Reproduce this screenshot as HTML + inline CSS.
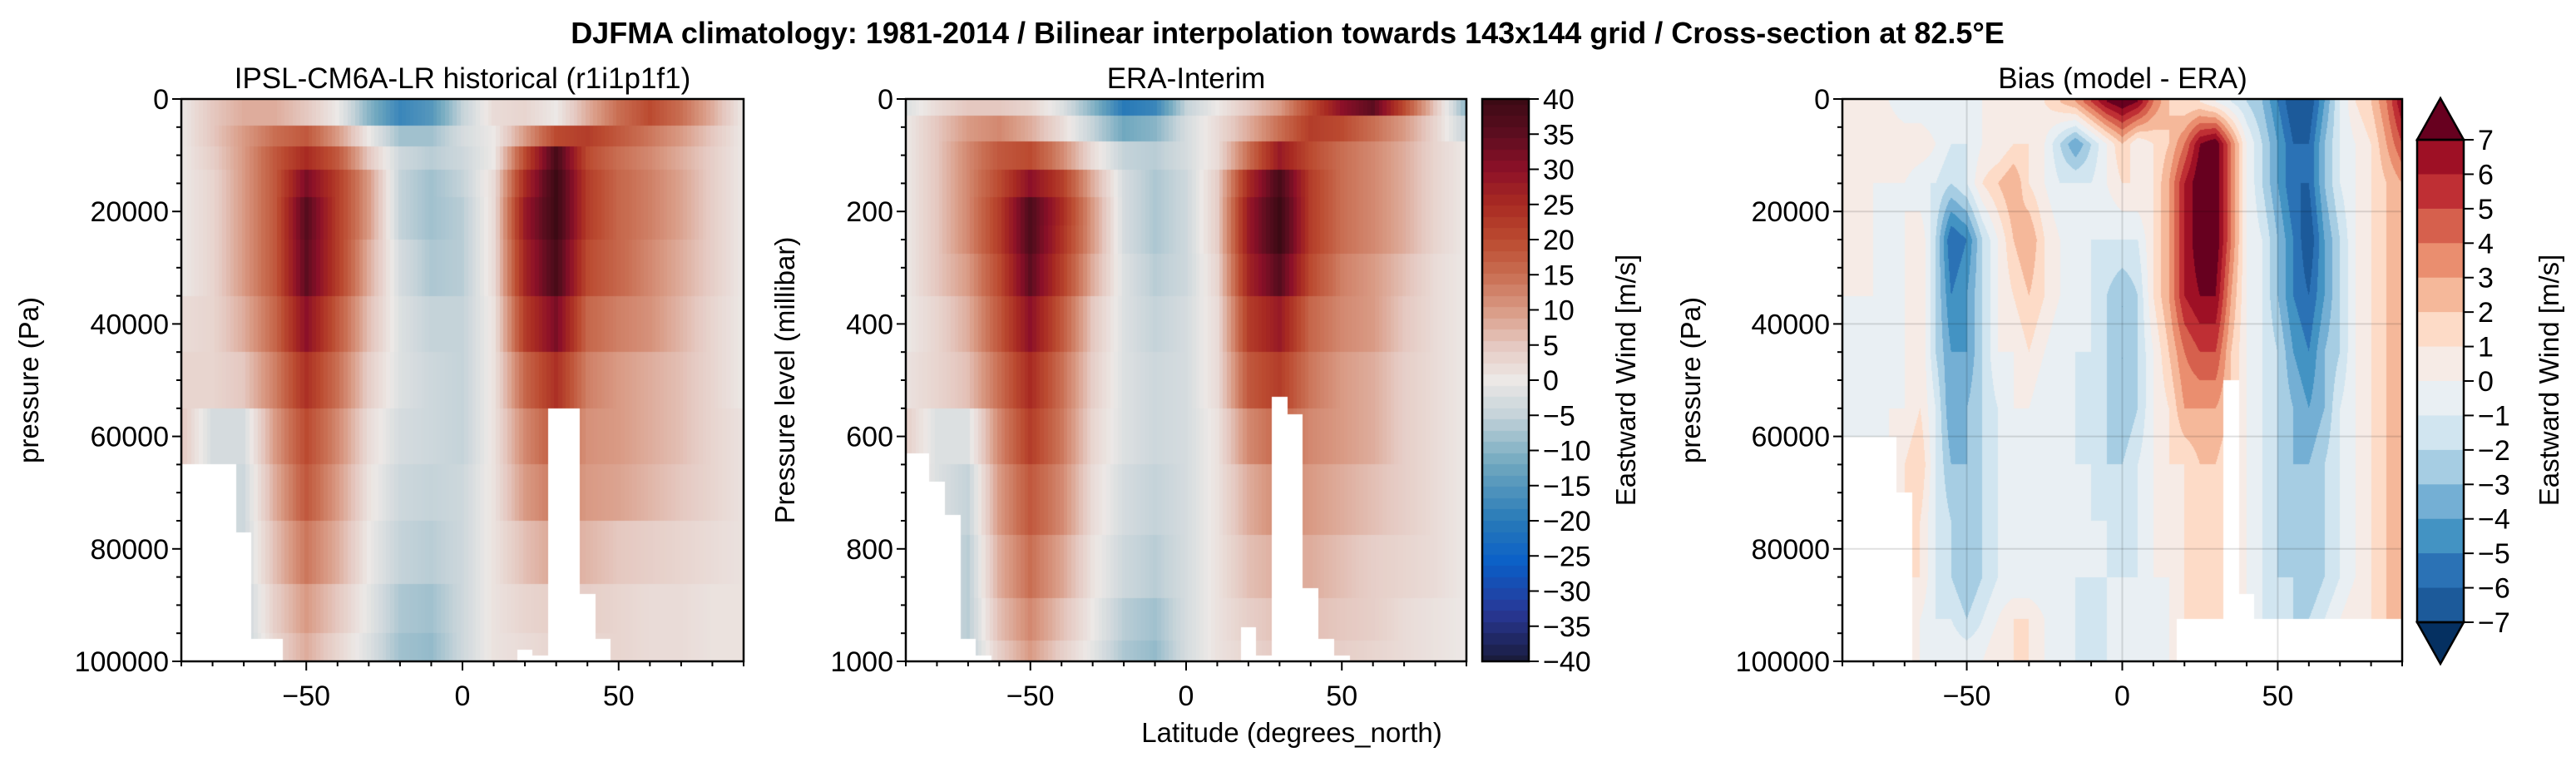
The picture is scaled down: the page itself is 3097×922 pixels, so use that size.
<!DOCTYPE html>
<html><head><meta charset="utf-8">
<style>
html,body{margin:0;padding:0;background:#fff;}
#root{position:relative;width:3097px;height:922px;overflow:hidden;font-family:"Liberation Sans",Arial,sans-serif;}
canvas{position:absolute;}
svg{position:absolute;left:0;top:0;}
text{font-family:"Liberation Sans",Arial,sans-serif;fill:#000;}
</style></head>
<body>
<div id="root">
<canvas id="c1" style="left:218px;top:119px" width="676" height="676"></canvas>
<canvas id="c2" style="left:1089px;top:119px" width="674" height="676"></canvas>
<canvas id="c3" style="left:2215px;top:119px" width="673" height="676"></canvas>
<canvas id="cb1" style="left:1782px;top:119px" width="56" height="676"></canvas>
<svg id="ov" width="3097" height="922">
<text x="1548" y="52" font-size="36" font-weight="bold" text-anchor="middle">DJFMA climatology: 1981-2014 / Bilinear interpolation towards 143x144 grid / Cross-section at 82.5°E</text>
<text x="556" y="106" font-size="35" text-anchor="middle">IPSL-CM6A-LR historical (r1i1p1f1)</text>
<text x="1426" y="106" font-size="35" text-anchor="middle">ERA-Interim</text>
<text x="2552" y="106" font-size="35" text-anchor="middle">Bias (model - ERA)</text>
<text transform="translate(46,457) rotate(-90)" font-size="33" text-anchor="middle">pressure (Pa)</text>
<text transform="translate(955,457) rotate(-90)" font-size="33" text-anchor="middle">Pressure level (millibar)</text>
<text transform="translate(2044,457) rotate(-90)" font-size="33" text-anchor="middle">pressure (Pa)</text>
<text x="1553" y="892" font-size="33" text-anchor="middle">Latitude (degrees_north)</text>
<text transform="translate(1966,457) rotate(-90)" font-size="33" text-anchor="middle">Eastward Wind [m/s]</text>
<text transform="translate(3076,457) rotate(-90)" font-size="33" text-anchor="middle">Eastward Wind [m/s]</text>
</svg>
</div>
<script>
// ---------- DATA ----------
const lat10 = [-90,-80,-70,-60,-50,-40,-30,-20,-10,0,10,20,30,40,50,60,70,80,90];
const modelLevels = [2500,7000,10000,15000,20000,30000,40000,50000,60000,70000,80000,92500,97500];
const modelRow0 = [0,5,8,8,5,0,-10,-18,-15,-5,2,3,0,8,15,20,15,8,0];
const modelRow1 = [0,5,10,15,18,10,0,-8,-8,-3,0,10,20,22,18,14,10,5,0];
const modelRow2 = [0,4,10,18,25,18,5,-4,-6,-4,0,20,38,20,15,12,8,4,0];
const modelRow3 = [0,3,10,18,32,22,10,-5,-8,-5,2,25,40,22,16,13,9,4,0];
const modelRow4 = [0,3,10,18,36,22,10,-5,-8,-6,2,28,40,22,16,13,9,4,0];
const modelRow5 = [0,3,10,18,35,22,8,-3,-7,-6,2,26,38,20,16,12,8,4,0];
const modelRow6 = [2,3,8,16,30,18,6,-2,-5,-5,1,22,32,16,13,11,7,3,0];
const modelRow7 = [3,3,5,13,24,15,4,-2,-4,-5,1,16,24,13,10,8,6,3,0];
const modelRow8 = [5,-3,-3,10,20,12,2,-3,-4,-5,1,12,18,11,10,8,6,3,1];
const modelRow9 = [4,-3,-4,8,18,10,1,-4,-5,-4,1,10,14,10,9,7,5,3,1];
const modelRow10 = [3,-3,-4,6,14,8,0,-5,-6,-4,1,6,9,7,5,4,3,2,1];
const modelRow11 = [2,-3,-5,4,10,5,-1,-7,-8,-4,1,3,4,4,3,2,2,1,1];
const modelRow12 = [2,-3,-5,3,8,3,-2,-8,-9,-4,1,2,3,3,3,2,2,1,1];
const modelSurf = [65000,65000,65000,65000,77000,96000,96000,100000,100000,100000,100000,100000,100000,100000,100000,100000,100000,100000,100000,100000,100000,100000,98000,99000,55000,55000,88000,96000,100000,100000,100000,100000,100000,100000,100000,100000,100000];
const eraLevels = [10,50,100,150,200,250,300,400,500,600,700,850,925,1000];
const eraRow0 = [-2,2,5,5,3,-2,-10,-20,-18,-5,0,5,10,20,30,35,20,5,-10];
const eraRow1 = [0,5,10,12,8,2,-5,-12,-10,-3,2,8,15,22,20,15,10,3,-5];
const eraRow2 = [0,5,12,18,20,12,2,-5,-6,-3,2,15,28,20,15,12,8,3,0];
const eraRow3 = [0,5,12,20,30,22,8,-3,-7,-4,4,25,38,22,15,12,8,3,0];
const eraRow4 = [0,5,12,22,37,25,10,-3,-7,-4,4,28,40,22,15,12,8,3,0];
const eraRow5 = [0,5,12,22,37,24,10,-3,-7,-4,4,28,40,22,15,12,8,3,0];
const eraRow6 = [0,5,10,20,35,22,8,-2,-6,-4,3,26,36,20,13,10,6,2,0];
const eraRow7 = [0,3,8,18,30,18,5,-2,-5,-3,2,22,28,16,12,10,5,2,0];
const eraRow8 = [1,3,6,15,25,15,4,-2,-4,-3,2,18,22,14,10,8,4,2,0];
const eraRow9 = [4,-2,-2,12,22,14,3,-2,-4,-3,1,12,16,12,10,8,4,2,0];
const eraRow10 = [3,-2,-5,10,18,12,2,-3,-5,-3,1,8,12,10,8,6,4,2,0];
const eraRow11 = [2,-2,-6,8,15,9,1,-4,-6,-3,1,6,8,8,6,4,3,2,0];
const eraRow12 = [2,-2,-6,6,12,6,0,-6,-8,-3,1,4,6,6,5,4,2,1,0];
const eraRow13 = [2,-2,-6,4,10,4,-1,-7,-9,-3,1,3,5,5,4,3,2,1,0];
const eraSurf = [630,630,680,740,960,990,1000,1000,1000,1000,1000,1000,1000,1000,1000,1000,1000,1000,1000,1000,1000,1000,940,990,530,560,870,960,990,1000,1000,1000,1000,1000,1000,1000,1000];
const biasLevels = [500,8000,15000,25000,35000,45000,55000,65000,75000,85000,92500,100000];
const biasRow0 = [0,0,0,0,-1,-1,-1,-1,-1,0,0,0,0,1,2,3,5,7,8,7,4,2,1,1,0,-1,-2,-3,-5,-7,-7,-4,-1,1,2,4,7];
const biasRow1 = [0,0,0,1,1,1,0,-1,-1,0,0,1,1,0,-2,-4,-2,0,2,0,1,2,4,7,8,4,0,-2,-4,-6,-6,-3,-1,0,1,3,5];
const biasRow2 = [0,0,0,0,0,-1,-1,-2,-1,1,2,3,1,0,-1,-1,-1,0,1,1,1,3,6,8,8,4,0,-2,-4,-6,-6,-3,-1,0,1,2,3];
const biasRow3 = [0,0,0,-1,0,1,-2,-6,-5,-2,0,2,3,1,0,-1,-1,-1,-1,-1,1,3,6,8,8,4,0,-1,-3,-5,-7,-4,-2,0,1,2,2];
const biasRow4 = [0,0,0,-1,0,1,-2,-5,-4,-2,0,1,2,1,0,0,-1,-2,-3,-2,1,3,6,7,7,3,0,-1,-3,-5,-6,-4,-2,0,1,2,2];
const biasRow5 = [-1,-1,-1,-1,0,1,-2,-4,-4,-2,0,0,1,0,-1,-1,-1,-2,-3,-2,0,2,4,5,5,2,0,-1,-2,-4,-5,-3,-2,0,1,2,2];
const biasRow6 = [-1,-1,-1,0,0,1,-1,-4,-3,-2,-1,0,0,-1,-1,-1,-2,-2,-3,-2,0,1,3,3,3,2,0,-1,-2,-3,-4,-3,-1,0,1,2,2];
const biasRow7 = [-1,-1,-1,0,1,2,-1,-3,-3,-2,-1,-1,-1,-1,-1,-1,-1,-2,-2,-1,0,1,1,2,2,1,0,-1,-2,-3,-3,-2,-1,0,1,2,3];
const biasRow8 = [0,0,0,0,1,1,-1,-2,-3,-2,-1,-1,-1,-1,-1,-1,-1,-1,-2,-1,0,0,1,1,1,1,0,-1,-2,-3,-3,-2,-1,0,1,2,3];
const biasRow9 = [0,0,0,0,1,1,-1,-2,-3,-2,-1,-1,-1,-1,-1,-1,-1,-1,-1,-1,0,0,1,1,1,1,0,-1,-2,-2,-3,-2,-1,0,1,2,3];
const biasRow10 = [0,0,0,0,0,0,-1,-1,-2,-1,0,1,1,0,-1,-1,-2,-1,-1,-1,-1,0,1,1,1,1,0,-1,-2,-2,-2,-1,0,1,1,2,3];
const biasRow11 = [0,0,0,0,0,0,0,0,0,0,1,1,1,0,-1,-1,-2,-1,-1,-1,-1,0,0,0,0,0,0,0,0,0,0,0,0,0,0,0,0];
const biasSurf = [60000,60000,60000,60000,70000,100000,100000,100000,100000,100000,100000,100000,100000,100000,100000,100000,100000,100000,100000,100000,100000,100000,92500,92500,92500,50000,88000,92500,92500,92500,92500,92500,92500,92500,92500,92500,92500];
const paTicks = [0,20000,40000,60000,80000,100000];
const mbTicks = [0,200,400,600,800,1000];
const latTicks = [-50,0,50];
const windCbTicks = [-40,-35,-30,-25,-20,-15,-10,-5,0,5,10,15,20,25,30,35,40];
const biasCbTicks = [-7,-6,-5,-4,-3,-2,-1,0,1,2,3,4,5,6,7];

const modelRows=[modelRow0,modelRow1,modelRow2,modelRow3,modelRow4,modelRow5,modelRow6,modelRow7,modelRow8,modelRow9,modelRow10,modelRow11,modelRow12];
const eraRows=[eraRow0,eraRow1,eraRow2,eraRow3,eraRow4,eraRow5,eraRow6,eraRow7,eraRow8,eraRow9,eraRow10,eraRow11,eraRow12,eraRow13];
const biasRows=[biasRow0,biasRow1,biasRow2,biasRow3,biasRow4,biasRow5,biasRow6,biasRow7,biasRow8,biasRow9,biasRow10,biasRow11];

// ---------- COLOR ----------
const windStops=[[-40,[26,28,60]],[-33,[40,55,150]],[-26,[10,95,200]],[-20,[40,122,184]],[-12,[112,168,191]],[-5,[197,211,217]],[0,[236,232,230]],[5,[229,200,192]],[10,[217,154,132]],[15,[201,110,82]],[20,[187,74,48]],[25,[168,42,34]],[30,[140,16,40]],[35,[92,13,31]],[40,[60,10,20]]];
function windColor(v){
  if(v<=windStops[0][0])return windStops[0][1];
  for(let i=1;i<windStops.length;i++){if(v<=windStops[i][0]){const a=windStops[i-1],b=windStops[i];const t=(v-a[0])/(b[0]-a[0]);return [0,1,2].map(k=>Math.round(a[1][k]+t*(b[1][k]-a[1][k])));}}
  return windStops[windStops.length-1][1];
}
const biasColors=["#053061","#1c5a9a","#2b72b5","#4393c3","#74afd4","#a6cde3","#d1e5f0","#e9eff3","#f6ebe6","#fddbc7","#f5b89a","#ea8e6f","#d6604d","#bf2f34","#9e1025","#67001f"];
function hex(h){return [parseInt(h.slice(1,3),16),parseInt(h.slice(3,5),16),parseInt(h.slice(5,7),16)];}
function biasColor(v){let i=Math.floor(v)+8;if(v<-7)i=0;if(v>=7)i=15;i=Math.max(0,Math.min(15,i));return hex(biasColors[i]);}

function lat10Interp(row,lat){
  const q=Math.round(lat/1.25)*1.25;
  const f=(q+90)/10;let i=Math.floor(f);if(i>=18)i=17;if(i<0)i=0;const t=f-i;
  return row[i]*(1-t)+row[i+1]*t;
}
function surfAt(s,lat){return s[Math.max(0,Math.min(36,Math.round((lat+90)/5)))];}

function drawImshow(id,levels,rows,pmax,surf){
  const c=document.getElementById(id),ctx=c.getContext('2d'),w=c.width,h=c.height;
  const img=ctx.createImageData(w,h);
  const edges=[0];for(let k=0;k<levels.length-1;k++)edges.push((levels[k]+levels[k+1])/2);edges.push(pmax);
  for(let x=0;x<w;x++){
    const lat=-90+(x+0.5)/w*180;const sp=surfAt(surf,lat);
    for(let y=0;y<h;y++){
      const p=(y+0.5)/h*pmax;if(p>sp)continue;
      let k=0;while(k<levels.length-1&&p>edges[k+1])k++;
      const v=lat10Interp(rows[k],lat);const col=windColor(v);const o=(y*w+x)*4;
      img.data[o]=col[0];img.data[o+1]=col[1];img.data[o+2]=col[2];img.data[o+3]=255;
    }
  }
  ctx.putImageData(img,0,0);
}
function drawBias(){
  const c=document.getElementById('c3'),ctx=c.getContext('2d'),w=c.width,h=c.height;
  const img=ctx.createImageData(w,h);
  for(let x=0;x<w;x++){
    const lat=-90+(x+0.5)/w*180;const sp=surfAt(biasSurf,lat);
    let fi=(lat+90)/5;let i=Math.floor(fi);if(i>=36)i=35;const t=fi-i;
    for(let y=0;y<h;y++){
      const p=(y+0.5)/h*100000;if(p>sp)continue;
      let k=0;while(k<biasLevels.length-2&&p>biasLevels[k+1])k++;
      let u=(p-biasLevels[k])/(biasLevels[k+1]-biasLevels[k]);u=Math.max(0,Math.min(1,u));
      const r0=biasRows[k],r1=biasRows[k+1];
      const v=(r0[i]*(1-t)+r0[i+1]*t)*(1-u)+(r1[i]*(1-t)+r1[i+1]*t)*u;
      const col=biasColor(v);const o=(y*w+x)*4;
      img.data[o]=col[0];img.data[o+1]=col[1];img.data[o+2]=col[2];img.data[o+3]=255;
    }
  }
  ctx.putImageData(img,0,0);
}
drawImshow('c1',modelLevels,modelRows,100000,modelSurf);
drawImshow('c2',eraLevels,eraRows,1000,eraSurf);
drawBias();
(function(){const c=document.getElementById('cb1'),ctx=c.getContext('2d');
  for(let y=0;y<c.height;y++){const v=40-80*(y+0.5)/c.height;const q=Math.round(v/1.6)*1.6;const col=windColor(q);ctx.fillStyle='rgb('+col.join(',')+')';ctx.fillRect(0,y,c.width,1);}})();

// ---------- AXES ----------
const NS='http://www.w3.org/2000/svg';const ov=document.getElementById('ov');
function el(tag,attrs){const e=document.createElementNS(NS,tag);for(const k in attrs)e.setAttribute(k,attrs[k]);ov.appendChild(e);return e;}
const Y0=119,Y1=795;
const panels=[{x0:218,x1:894,pmax:100000,ticks:paTicks,minor:5000,name:'model'},{x0:1089,x1:1763,pmax:1000,ticks:mbTicks,minor:50,name:'era'},{x0:2215,x1:2888,pmax:100000,ticks:paTicks,minor:5000,name:'bias'}];
function xs(P,lat){return P.x0+(lat+90)/180*(P.x1-P.x0);}
function ys(P,p){return Y0+p/P.pmax*(Y1-Y0);}
const P3=panels[2];
for(const lt of latTicks){const g=el('line',{x1:xs(P3,lt),x2:xs(P3,lt),y1:Y0,y2:Y1,stroke:'#000','stroke-opacity':0.12,'stroke-width':2});

}
for(const pt of paTicks.slice(1,-1)){const g=el('line',{x1:P3.x0,x2:P3.x1,y1:ys(P3,pt),y2:ys(P3,pt),stroke:'#000','stroke-opacity':0.12,'stroke-width':2});

}
for(const P of panels){
  const fr=el('rect',{x:P.x0,y:Y0,width:P.x1-P.x0,height:Y1-Y0,fill:'none',stroke:'#000','stroke-width':2.5});
  
  
  for(let p=0;p<=P.pmax+1e-6;p+=P.minor){const y=ys(P,p);const major=P.ticks.some(t=>Math.abs(t-p)<1e-6);
    const t=el('line',{x1:P.x0,x2:P.x0-(major?11:6),y1:y,y2:y,stroke:'#000','stroke-width':2});
    
    }
  for(const tv of P.ticks){const tx=el('text',{x:P.x0-15,y:ys(P,tv)+12,'font-size':34,'text-anchor':'end'});tx.textContent=tv;
    
    }
  for(let lt=-90;lt<=90;lt+=10){const x=xs(P,lt);const major=latTicks.includes(lt);
    const t=el('line',{x1:x,x2:x,y1:Y1,y2:Y1+(major?11:6),stroke:'#000','stroke-width':2});
    
    }
  for(const lt of latTicks){const tx=el('text',{x:xs(P,lt),y:848,'font-size':34,'text-anchor':'middle'});tx.textContent=lt<0?'\u2212'+(-lt):lt;
    
    }
}
const cbf=el('rect',{x:1782,y:Y0,width:56,height:Y1-Y0,fill:'none',stroke:'#000','stroke-width':2.5});


for(const v of windCbTicks){const y=Y0+(40-v)/80*(Y1-Y0);
  const t=el('line',{x1:1838,x2:1850,y1:y,y2:y,stroke:'#000','stroke-width':2});
  
  
  const tx=el('text',{x:1855,y:y+12,'font-size':34});tx.textContent=v<0?'\u2212'+(-v):v;
  
  }
const BX0=2906,BX1=2962,BT=168,BB=748;const bh=(BB-BT)/14;
for(let i=0;i<14;i++){const r=el('rect',{x:BX0,y:BT+i*bh,width:BX1-BX0,height:bh+0.5,fill:biasColors[14-i]});
  
  }
const tri1=el('polygon',{points:`${BX0},${BT} ${BX1},${BT} ${(BX0+BX1)/2},118`,fill:biasColors[15],stroke:'#000','stroke-width':2.5});


const tri2=el('polygon',{points:`${BX0},${BB} ${BX1},${BB} ${(BX0+BX1)/2},798`,fill:biasColors[0],stroke:'#000','stroke-width':2.5});


const bf=el('rect',{x:BX0,y:BT,width:BX1-BX0,height:BB-BT,fill:'none',stroke:'#000','stroke-width':2.5});


for(const v of biasCbTicks){const y=BT+(7-v)*bh;
  const t=el('line',{x1:BX1,x2:BX1+12,y1:y,y2:y,stroke:'#000','stroke-width':2});
  
  
  const tx=el('text',{x:BX1+17,y:y+12,'font-size':34});tx.textContent=v<0?'\u2212'+(-v):v;
  
  }
</script>
</body></html>
